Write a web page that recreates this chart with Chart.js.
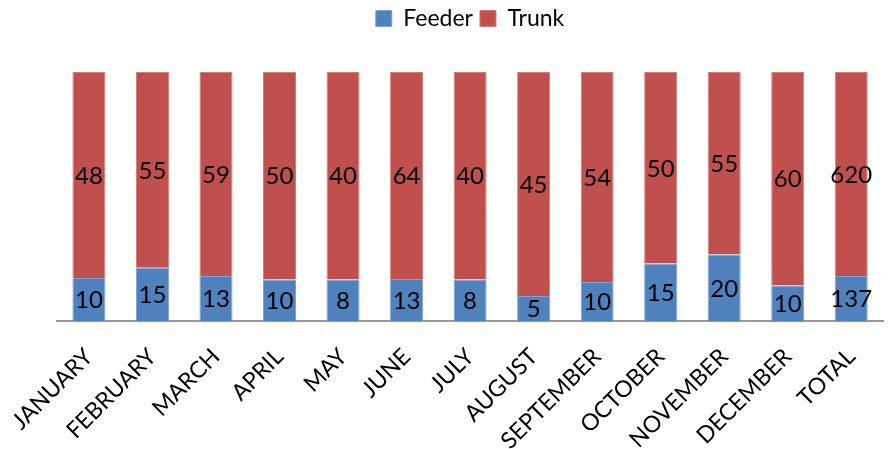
<!DOCTYPE html>
<html>
<head>
<meta charset="utf-8">
<script src="https://cdn.jsdelivr.net/npm/chart.js@4/dist/chart.umd.min.js"></script>
<style>
  html, body { margin: 0; padding: 0; background: #fff; }
  #wrap { width: 888px; height: 449px; }
</style>
</head>
<body>
<div id="wrap"><canvas id="c"></canvas></div>
<script>
// categories and raw counts
var months = ['JANUARY', 'FEBRUARY', 'MARCH', 'APRIL', 'MAY', 'JUNE', 'JULY',
              'AUGUST', 'SEPTEMBER', 'OCTOBER', 'NOVEMBER', 'DECEMBER', 'TOTAL'];
var feeder = [10, 15, 13, 10, 8, 13, 8, 5, 10, 15, 20, 10, 137];
var trunk  = [48, 55, 59, 50, 40, 64, 40, 45, 54, 50, 55, 60, 620];

// 100% stacked: convert to shares
var pct = function(a, b) {
    return a.map(function(v, i) { return v / (v + b[i]) * 100; });
};

var FONT = 'Lato, "Open Sans", sans-serif';

// write the raw value in the middle of each segment
var valueLabels = {
    id: 'valueLabels',
    afterDatasetsDraw: function(chart) {
        var ctx = chart.ctx;
        ctx.save();
        ctx.font = '24px ' + FONT;
        ctx.fillStyle = '#000';
        ctx.textAlign = 'center';
        ctx.textBaseline = 'middle';
        chart.data.datasets.forEach(function(ds, di) {
            chart.getDatasetMeta(di).data.forEach(function(bar, i) {
                ctx.fillText(String(ds.raw[i]), bar.x, (bar.y + bar.base) / 2 + 1);
            });
        });
        ctx.restore();
    }
};

// keep the legend short at the top but leave room below it
var legendSpace = {
    id: 'legendSpace',
    beforeInit: function(chart) {
        var fit = chart.legend.fit;
        chart.legend.fit = function() {
            fit.bind(chart.legend)();
            this.height = 72;
        };
    }
};

new Chart(document.getElementById('c'), {
    type: 'bar',
    data: {
        labels: months,
        datasets: [{
            label: 'Feeder',
            data: pct(feeder, trunk),
            raw: feeder,
            backgroundColor: '#4F81BD',
            borderColor: '#7FA3D0',
            borderWidth: 1,
            borderSkipped: 'bottom'
        }, {
            label: 'Trunk',
            data: pct(trunk, feeder),
            raw: trunk,
            backgroundColor: '#C0504D',
            borderColor: '#D27E7B',
            borderWidth: 1,
            borderSkipped: 'bottom'
        }]
    },
    options: {
        responsive: true,
        maintainAspectRatio: false,
        animation: false,
        layout: { padding: { left: 57, right: 5, top: 0, bottom: 0 } },
        datasets: { bar: { categoryPercentage: 1, barPercentage: 0.52 } },
        plugins: {
            legend: {
                position: 'top',
                labels: {
                    font: { family: FONT, size: 23 },
                    color: '#000',
                    boxWidth: 16,
                    boxHeight: 16,
                    padding: 7
                }
            },
            tooltip: { enabled: false }
        },
        scales: {
            x: {
                stacked: true,
                grid: { display: false },
                border: { display: true, color: '#999', width: 2 },
                afterFit: function(scale) { scale.height = 128; },
                ticks: {
                    color: '#000',
                    font: { family: FONT, size: 23 },
                    minRotation: 45,
                    maxRotation: 45,
                    padding: 14
                }
            },
            y: {
                stacked: true,
                display: false,
                min: 0,
                max: 100
            }
        }
    },
    plugins: [valueLabels, legendSpace]
});
</script>
</body>
</html>
